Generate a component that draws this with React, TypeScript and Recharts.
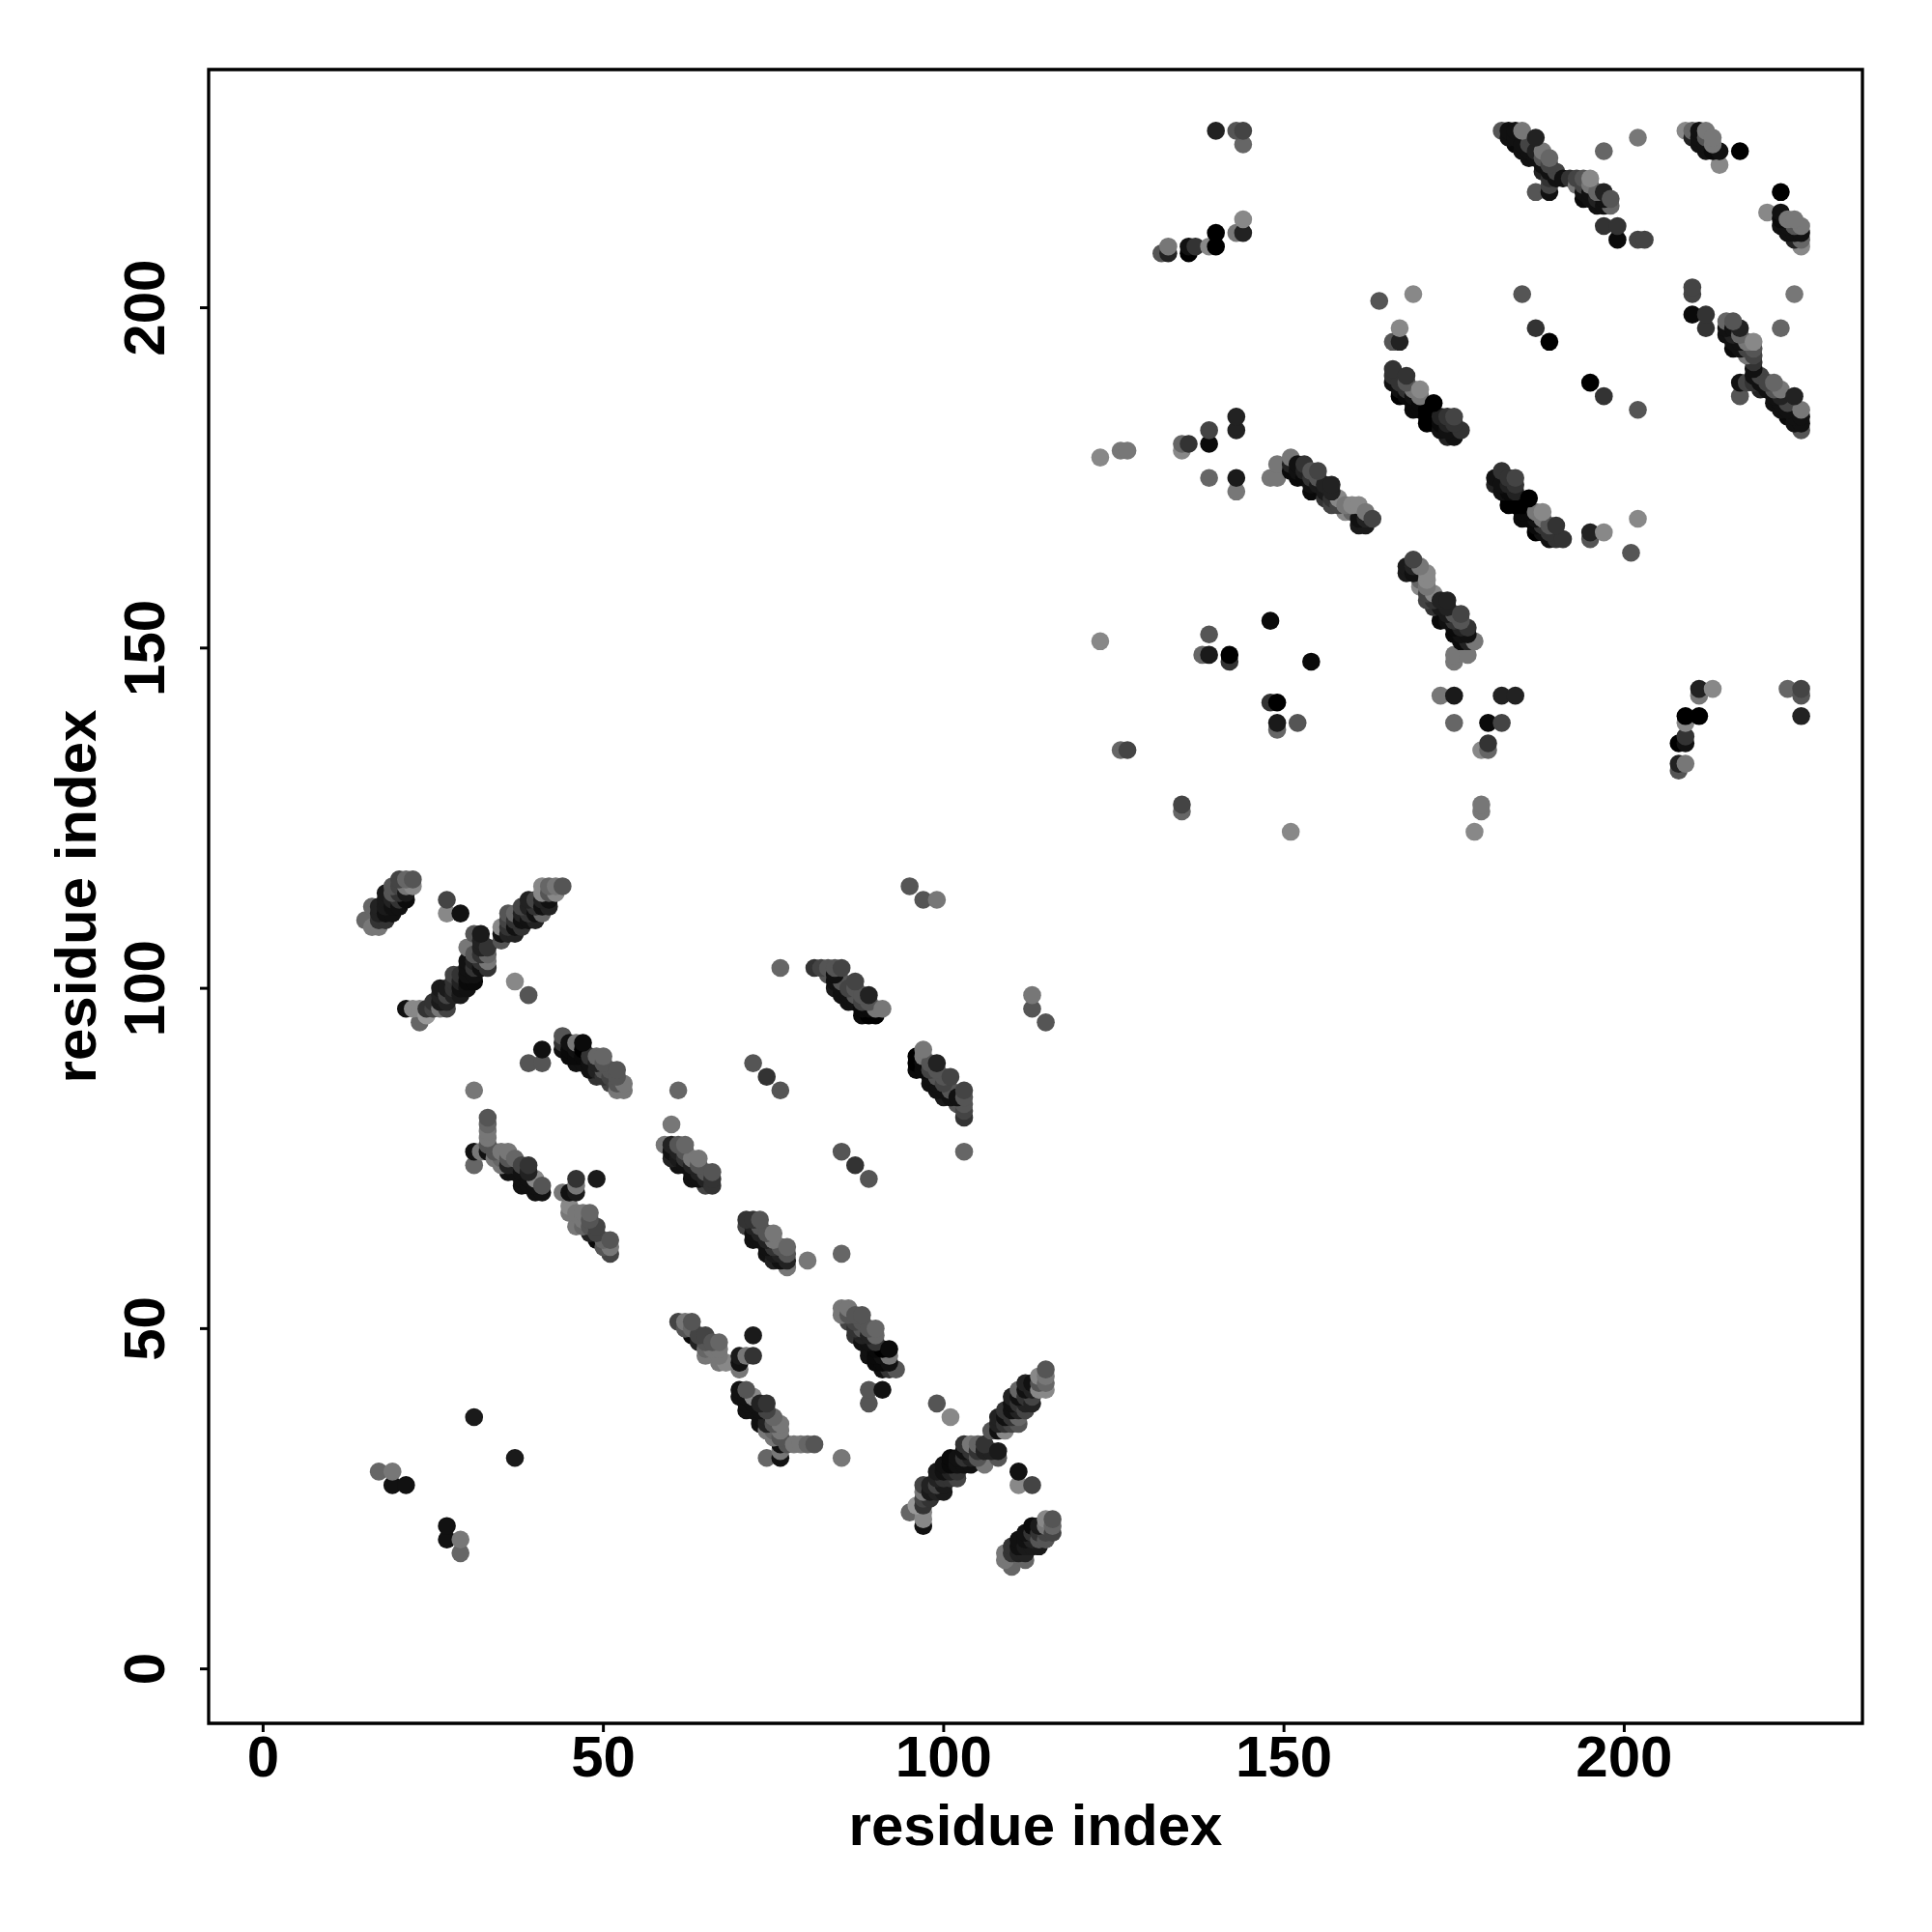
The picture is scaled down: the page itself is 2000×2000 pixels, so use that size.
import React from 'react';
import { ScatterChart, Scatter, XAxis, YAxis, ReferenceArea } from 'recharts';

// [residue i, residue j, grey level] - the map is symmetric so only i < j is listed
type Contact = [number, number, number];

const xTicks = [0, 50, 100, 150, 200];
const yTicks = [0, 50, 100, 150, 200];
const axisTitle = 'residue index';

const firstDomainCorner: Contact[] = [
  [15, 110, 0x66], [16, 109, 0x77], [17, 109, 0x77], [18, 110, 0x33], [16, 112, 0x66], [17, 112, 0x22],
  [18, 111, 0x11], [19, 111, 0x11], [18, 114, 0x1a], [19, 113, 0x22], [20, 113, 0x33], [21, 113, 0x0c],
  [20, 115, 0x44], [21, 115, 0x77], [22, 115, 0x88], [21, 116, 0x66], [22, 116, 0x55],
  [17, 110, 0x33], [17, 111, 0x22], [18, 112, 0x1a], [18, 113, 0x1a], [19, 112, 0x11], [19, 114, 0x55],
  [20, 112, 0x11], [20, 114, 0x33], [21, 114, 0x1a], [19, 115, 0x55], [20, 116, 0x44],
];

const crossStreak: Contact[] = [
  [21, 97, 0x11], [23, 95, 0x66], [22, 97, 0x88], [23, 97, 0x88], [24, 96, 0x99], [25, 98, 0x33],
  [26, 97, 0x77], [27, 97, 0x44], [26, 100, 0x1a], [27, 99, 0x44], [28, 100, 0x33], [29, 99, 0x1a],
  [28, 102, 0x44], [29, 101, 0x22], [31, 101, 0x0a], [30, 104, 0x11], [31, 103, 0x33], [32, 104, 0x33],
  [33, 103, 0x33], [33, 104, 0x77], [33, 105, 0x66], [30, 106, 0x77], [32, 106, 0x22], [31, 108, 0x55],
  [32, 108, 0x1a], [35, 107, 0x55], [35, 108, 0x11], [35, 109, 0x88], [37, 108, 0x22], [36, 111, 0x55],
  [37, 111, 0x66], [38, 109, 0x33], [38, 110, 0x11], [40, 110, 0x22], [39, 111, 0x33], [41, 111, 0x66],
  [40, 112, 0x33], [42, 112, 0x22], [39, 113, 0x22], [42, 113, 0x11], [41, 114, 0x88], [43, 114, 0x88],
  [41, 115, 0x88], [42, 115, 0x66], [43, 115, 0x77], [44, 115, 0x55],
  [27, 113, 0x44], [27, 111, 0x88], [29, 111, 0x11], [37, 101, 0x88], [39, 99, 0x55],
  [24, 97, 0x33], [25, 97, 0x44], [26, 98, 0x1a], [26, 99, 0x22], [27, 98, 0x22], [27, 100, 0x1a],
  [28, 99, 0x22], [28, 101, 0x33], [29, 100, 0x11], [29, 102, 0x33], [30, 100, 0x11], [30, 101, 0x0a],
  [30, 102, 0x11], [30, 103, 0x11], [31, 102, 0x11], [31, 104, 0x22], [31, 105, 0x55], [32, 103, 0x11],
  [32, 105, 0x33], [32, 107, 0x22], [33, 106, 0x33], [36, 108, 0x22], [36, 109, 0x33], [36, 110, 0x44],
  [37, 109, 0x11], [37, 110, 0x33], [38, 111, 0x22], [38, 112, 0x44], [39, 110, 0x11], [39, 112, 0x22],
  [40, 111, 0x11], [40, 113, 0x44], [41, 112, 0x11], [41, 113, 0x22], [42, 114, 0x55],
];

const strandPairC: Contact[] = [
  [44, 93, 0x55], [44, 92, 0x33], [44, 91, 0x11], [45, 92, 0x11], [46, 92, 0x77], [47, 92, 0x0a],
  [47, 91, 0x00], [46, 89, 0x11], [47, 89, 0x11], [49, 90, 0x66], [50, 90, 0x66], [49, 87, 0x33],
  [50, 88, 0x55], [51, 88, 0x55], [52, 88, 0x55], [51, 86, 0x44], [53, 86, 0x77], [53, 85, 0x77],
  [52, 85, 0x77], [41, 91, 0x11], [39, 89, 0x55], [41, 89, 0x55],
  [31, 85, 0x77], [61, 85, 0x66], [60, 80, 0x77],
  [45, 91, 0x0a], [45, 90, 0x0a], [46, 90, 0x0a], [46, 91, 0x11], [47, 90, 0x0a], [48, 90, 0x33],
  [48, 89, 0x11], [48, 88, 0x11], [49, 89, 0x22], [49, 88, 0x22], [50, 87, 0x33], [50, 89, 0x55],
  [51, 87, 0x44], [52, 86, 0x55], [52, 87, 0x55],
];

const strandPairD: Contact[] = [
  [33, 81, 0x55], [33, 80, 0x66], [33, 79, 0x77], [33, 78, 0x77], [33, 77, 0x55], [31, 76, 0x11],
  [31, 74, 0x66], [33, 76, 0x11], [32, 76, 0x77], [35, 76, 0x77], [36, 76, 0x77], [35, 75, 0x66],
  [37, 75, 0x66], [36, 73, 0x11], [39, 74, 0x33], [37, 74, 0x22], [38, 73, 0x11], [38, 71, 0x11],
  [40, 72, 0x88], [40, 70, 0x11], [41, 70, 0x11], [41, 71, 0x55],
  [36, 75, 0x55], [37, 73, 0x11], [38, 72, 0x11], [38, 74, 0x44], [39, 72, 0x11], [39, 73, 0x22],
  [39, 71, 0x11], [40, 71, 0x11], [34, 76, 0x55], [34, 75, 0x77], [35, 74, 0x77], [36, 74, 0x22],
];

const strandPairE: Contact[] = [
  [46, 72, 0x33], [46, 71, 0x77], [49, 72, 0x1a], [44, 70, 0x77], [45, 70, 0x11], [46, 70, 0x1a],
  [45, 68, 0x88], [47, 67, 0x77], [46, 67, 0x77], [45, 67, 0x77], [46, 65, 0x77], [49, 65, 0x44],
  [51, 63, 0x55], [51, 62, 0x77], [51, 61, 0x44], [49, 63, 0x0a], [50, 63, 0x66],
  [47, 66, 0x77], [48, 66, 0x55], [48, 65, 0x55], [48, 64, 0x22], [49, 64, 0x44], [50, 62, 0x55],
  [48, 67, 0x66], [47, 65, 0x66],
];

const strandPairF: Contact[] = [
  [59, 77, 0x77], [60, 77, 0x22], [61, 77, 0x55], [62, 77, 0x66], [60, 76, 0x11], [62, 76, 0x55],
  [61, 74, 0x11], [63, 75, 0x77], [64, 75, 0x77], [63, 72, 0x11], [64, 73, 0x22], [65, 71, 0x44],
  [65, 73, 0x55], [66, 73, 0x55], [66, 72, 0x33],
  [60, 75, 0x22], [61, 76, 0x22], [61, 75, 0x1a], [62, 74, 0x11], [62, 75, 0x33], [63, 74, 0x22],
  [63, 73, 0x11], [64, 72, 0x11], [64, 74, 0x55], [65, 72, 0x22], [66, 71, 0x33],
];

const farContacts: Contact[] = [
  [31, 37, 0x1a], [17, 29, 0x66], [19, 29, 0x77], [19, 27, 0x11], [21, 27, 0x11],
  [72, 89, 0x55], [74, 87, 0x33], [76, 85, 0x55], [76, 103, 0x66],
  [99, 113, 0x77], [97, 113, 0x55], [95, 115, 0x55],
];

const strandPairJ: Contact[] = [
  [81, 103, 0x33], [83, 103, 0x55], [84, 103, 0x55], [85, 103, 0x44], [83, 102, 0x55], [84, 100, 0x1a],
  [85, 101, 0x55], [87, 101, 0x44], [86, 98, 0x11], [87, 99, 0x55], [89, 99, 0x22], [88, 96, 0x0a],
  [89, 96, 0x00], [90, 96, 0x00], [90, 97, 0x77], [91, 97, 0x77], [89, 98, 0x55],
  [82, 103, 0x44], [84, 102, 0x11], [84, 101, 0x11], [85, 100, 0x11], [85, 99, 0x11], [86, 99, 0x11],
  [86, 100, 0x44], [87, 98, 0x11], [87, 100, 0x55], [88, 99, 0x55], [88, 97, 0x0a], [89, 97, 0x0a],
  [88, 98, 0x44],
];

const secondDomainCorner: Contact[] = [
  [140, 226, 0x22], [143, 226, 0x55], [144, 226, 0x44], [144, 224, 0x66], [144, 213, 0x88], [143, 211, 0x77],
  [144, 211, 0x22], [140, 211, 0x00], [140, 209, 0x00], [139, 209, 0x88], [132, 208, 0x55], [133, 209, 0x77],
  [133, 208, 0x22], [136, 209, 0x11], [136, 208, 0x00], [137, 209, 0x33],
  [164, 201, 0x55], [169, 202, 0x88], [166, 195, 0x55], [167, 195, 0x22], [167, 197, 0x88],
  [143, 184, 0x22], [143, 182, 0x22], [139, 182, 0x44], [139, 180, 0x0a], [136, 180, 0x33], [135, 180, 0x66],
  [135, 179, 0x88], [123, 178, 0x88], [126, 179, 0x77], [127, 179, 0x77], [139, 175, 0x66], [143, 175, 0x1a],
  [143, 173, 0x77], [123, 151, 0x88], [139, 152, 0x55], [138, 149, 0x66], [139, 149, 0x1a], [142, 149, 0x00],
  [142, 148, 0x33], [148, 154, 0x0a], [126, 135, 0x66], [127, 135, 0x44],
  [185, 202, 0x55], [187, 197, 0x33], [189, 195, 0x00], [197, 223, 0x66], [202, 225, 0x77],
];

const strandPairK: Contact[] = [
  [166, 191, 0x33], [166, 190, 0x33], [166, 189, 0x11], [168, 190, 0x33], [167, 187, 0x00], [169, 188, 0x77],
  [170, 188, 0x88], [170, 187, 0x77], [169, 185, 0x0a], [172, 186, 0x00], [171, 183, 0x00], [174, 184, 0x33],
  [175, 184, 0x44], [176, 182, 0x33], [174, 181, 0x22], [175, 181, 0x11], [172, 184, 0x00], [173, 183, 0x0a],
  [167, 188, 0x11], [168, 187, 0x0a], [169, 186, 0x0a], [170, 185, 0x0a], [171, 184, 0x00], [172, 183, 0x00],
  [173, 182, 0x11], [168, 188, 0x33], [169, 187, 0x11], [170, 186, 0x0a], [171, 185, 0x00], [174, 182, 0x11],
  [173, 184, 0x22], [174, 183, 0x22], [175, 183, 0x33], [167, 189, 0x33], [168, 189, 0x55],
];

const strandPairL: Contact[] = [
  [148, 175, 0x77], [149, 175, 0x77], [149, 177, 0x77], [151, 178, 0x77], [151, 177, 0x22], [152, 177, 0x11],
  [152, 175, 0x0a], [153, 177, 0x33], [154, 176, 0x55], [155, 176, 0x44], [154, 173, 0x0a], [156, 172, 0x33],
  [157, 174, 0x22], [157, 171, 0x44], [158, 172, 0x88], [159, 170, 0x88], [160, 171, 0x88], [161, 171, 0x88],
  [161, 168, 0x1a], [162, 168, 0x1a], [162, 170, 0x77], [163, 169, 0x44], [160, 170, 0x66],
  [151, 176, 0x0a], [152, 176, 0x11], [153, 175, 0x0a], [153, 176, 0x22], [154, 175, 0x33], [154, 174, 0x11],
  [155, 174, 0x1a], [155, 175, 0x55], [156, 174, 0x22], [156, 173, 0x1a], [157, 173, 0x22], [157, 172, 0x33],
  [158, 171, 0x44], [159, 171, 0x77], [161, 169, 0x11], [162, 169, 0x22],
];

const strandPairO: Contact[] = [
  [182, 226, 0x55], [184, 226, 0x11], [184, 224, 0x0a], [185, 226, 0x77], [187, 225, 0x22], [186, 222, 0x11],
  [186, 224, 0x44], [188, 223, 0x77], [189, 222, 0x66], [188, 220, 0x22], [190, 220, 0x44], [189, 219, 0x33],
  [189, 217, 0x11], [189, 218, 0x44], [187, 217, 0x55], [191, 219, 0x11], [192, 219, 0x33], [193, 219, 0x44],
  [194, 219, 0x55], [195, 219, 0x88], [195, 218, 0x77], [193, 218, 0x77], [194, 216, 0x0a], [196, 215, 0x11],
  [197, 217, 0x22], [198, 215, 0x66], [197, 212, 0x33], [199, 212, 0x33], [199, 210, 0x0a], [202, 210, 0x44],
  [203, 210, 0x44],
  [183, 226, 0x11], [183, 225, 0x11], [184, 225, 0x11], [185, 224, 0x11], [185, 223, 0x11], [186, 223, 0x11],
  [187, 223, 0x22], [187, 222, 0x11], [188, 221, 0x11], [188, 222, 0x55], [189, 221, 0x44], [189, 220, 0x11],
  [190, 219, 0x11], [194, 218, 0x44], [194, 217, 0x11], [195, 217, 0x11], [195, 216, 0x11], [196, 216, 0x22],
  [197, 216, 0x11], [197, 215, 0x11], [196, 217, 0x66], [198, 216, 0x55],
];

const strandPairP: Contact[] = [
  [209, 226, 0x88], [210, 226, 0x66], [211, 226, 0x11], [210, 225, 0x22], [211, 225, 0x11], [212, 226, 0x77],
  [213, 225, 0x77], [212, 224, 0x11], [212, 223, 0x11], [213, 223, 0x0a], [214, 223, 0x11], [214, 221, 0x88],
  [217, 223, 0x00], [211, 224, 0x11], [212, 225, 0x55], [213, 224, 0x77],
];

const listedContacts = [
  ...firstDomainCorner, ...crossStreak, ...strandPairC, ...strandPairD, ...strandPairE, ...strandPairF,
  ...farContacts, ...strandPairJ, ...secondDomainCorner, ...strandPairK, ...strandPairL, ...strandPairO,
  ...strandPairP,
];

const toGrey = (level: number) => `rgb(${level},${level},${level})`;

// each contact shows on both sides of the diagonal, later sums paint over earlier ones
const points = listedContacts
  .flatMap(([i, j, level]) => [
    { x: i, y: j, level },
    { x: j, y: i, level },
  ])
  .sort((a, b) => a.x + a.y - (b.x + b.y));

const fontFamily = '"Liberation Sans", Arial, sans-serif';

const Dot = (props: any) => <circle cx={props.cx} cy={props.cy} r={9.3} fill={toGrey(props.payload.level)} />;

const XTick = ({ x, y, payload }: any) => (
  <text x={x} y={y + 44} textAnchor="middle" fontFamily={fontFamily} fontWeight="bold" fontSize={60} fill="#000">
    {payload.value}
  </text>
);

const YTick = ({ x, y, payload }: any) => (
  <text
    transform={`translate(${x - 35},${y}) rotate(-90)`}
    textAnchor="middle"
    fontFamily={fontFamily}
    fontWeight="bold"
    fontSize={60}
    fill="#000"
  >
    {payload.value}
  </text>
);

export default function App() {
  return (
    <div style={{ position: 'absolute', left: 0, top: 0, width: 2000, height: 2000, background: '#fff' }}>
      <ScatterChart width={2000} height={2000} margin={{ top: 72, right: 72, bottom: 0, left: 0 }}>
        <XAxis
          type="number"
          dataKey="x"
          domain={[-8, 235]}
          ticks={xTicks}
          tick={<XTick />}
          tickLine={{ stroke: '#000', strokeWidth: 3 }}
          tickSize={9}
          axisLine={false}
          height={216}
          interval={0}
          label={{
            value: axisTitle,
            position: 'insideBottom',
            offset: 90,
            style: { fontFamily, fontWeight: 'bold', fontSize: 60, fill: '#000' },
          }}
        />
        <YAxis
          type="number"
          dataKey="y"
          domain={[-8, 235]}
          ticks={yTicks}
          tick={<YTick />}
          tickLine={{ stroke: '#000', strokeWidth: 3 }}
          tickSize={9}
          axisLine={false}
          width={216}
          interval={0}
          label={{
            value: axisTitle,
            angle: -90,
            position: 'insideLeft',
            offset: 78,
            style: { fontFamily, fontWeight: 'bold', fontSize: 60, fill: '#000', textAnchor: 'middle' },
          }}
        />
        <ReferenceArea x1={-8} x2={235} y1={-8} y2={235} fill="none" stroke="#000" strokeWidth={3.3} ifOverflow="visible" />
        <Scatter data={points} shape={<Dot />} isAnimationActive={false} />
      </ScatterChart>
    </div>
  );
}
